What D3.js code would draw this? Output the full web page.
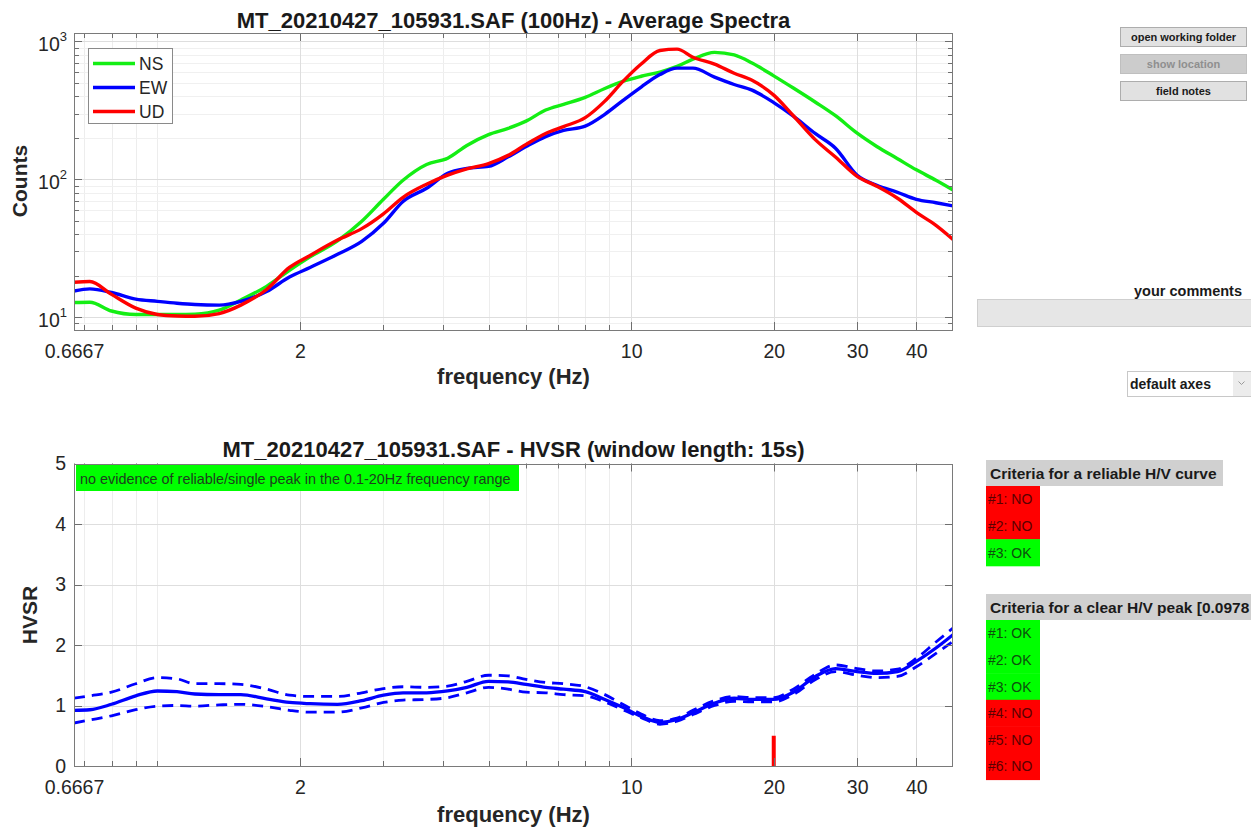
<!DOCTYPE html>
<html>
<head>
<meta charset="utf-8">
<script src="https://cdn.jsdelivr.net/npm/d3@7"></script>
<style>
  html, body { margin: 0; padding: 0; background: #ffffff; }
  svg { display: block; }
</style>
</head>
<body>
<svg id="chart" width="1251" height="828"></svg>
<script>
// ---------------- DATA ----------------
const freqs = [0.6667, 0.72, 0.8, 0.9, 1.0, 1.1, 1.2, 1.35, 1.5, 1.7, 1.9, 2.1, 2.4, 2.7, 3.0, 3.3, 3.7, 4.1, 4.5, 5.0,
               5.5, 6.0, 6.6, 7.2, 8.0, 8.8, 9.6, 10.5, 11.5, 12.5, 13.5, 15, 16.5, 18, 20, 22, 24.5, 27, 30, 33,
               36.5, 40, 44, 47.8];
const spectraNS = [12.75, 12.8, 11.06, 10.43, 10.43, 10.43, 10.48, 11.2, 13.3, 16.7, 21.8, 27.3, 35.7, 49.5, 71.5, 98.3, 128, 142, 176, 211,
                   234, 264, 318, 350, 393, 456, 513, 559, 600, 659, 744, 834, 798, 697, 563, 459, 362, 289, 216, 173,
                   141, 117, 98.3, 83.5];
const spectraEW = [15.45, 16.0, 15.07, 13.5, 13.0, 12.6, 12.33, 12.2, 12.97, 15.3, 19.5, 22.9, 28.5, 35.4, 47.9, 69, 86, 110.6, 120, 124,
                   145.5, 172.6, 204, 226, 243, 296, 372, 467, 575, 640, 640, 551, 487, 443, 360, 287, 214, 168, 107, 90.4,
                   80.4, 71.5, 67.5, 64];
const spectraUD = [17.9, 18.1, 14.6, 11.6, 10.43, 10.17, 10.13, 10.6, 12.2, 15.85, 22.9, 28.0, 36.2, 43.8, 56.1, 74, 92, 107, 118.8, 130,
                   149, 179, 215, 241, 280, 369, 511, 686, 860, 880, 768, 685, 588, 522, 408, 289, 193, 145, 105, 89,
                   72.8, 57.5, 46.3, 36.6];
const hvsrMean  = [0.92, 0.93, 1.02, 1.16, 1.24, 1.23, 1.19, 1.18, 1.18, 1.11, 1.05, 1.03, 1.02, 1.08, 1.17, 1.21, 1.21, 1.24, 1.30, 1.40,
                   1.39, 1.35, 1.30, 1.27, 1.23, 1.10, 0.97, 0.82, 0.72, 0.77, 0.88, 1.04, 1.12, 1.10, 1.10, 1.22, 1.48, 1.61, 1.56, 1.53,
                   1.56, 1.73, 1.95, 2.17];
const hvsrUpper = [1.12, 1.16, 1.22, 1.36, 1.46, 1.44, 1.36, 1.36, 1.35, 1.27, 1.17, 1.15, 1.15, 1.21, 1.28, 1.31, 1.30, 1.32, 1.40, 1.50,
                   1.49, 1.43, 1.38, 1.36, 1.31, 1.18, 1.02, 0.86, 0.75, 0.79, 0.92, 1.08, 1.15, 1.13, 1.13, 1.27, 1.52, 1.67, 1.61, 1.57,
                   1.60, 1.78, 2.05, 2.28];
const hvsrLower = [0.71, 0.76, 0.83, 0.93, 0.99, 1.00, 0.99, 1.01, 1.02, 0.98, 0.92, 0.89, 0.89, 0.96, 1.05, 1.09, 1.10, 1.13, 1.21, 1.30,
                   1.27, 1.22, 1.21, 1.18, 1.16, 1.06, 0.93, 0.80, 0.69, 0.74, 0.85, 1.00, 1.07, 1.06, 1.06, 1.18, 1.43, 1.56, 1.50, 1.46,
                   1.48, 1.64, 1.86, 2.06];
const peakFreqs = [20];
const peakHeights = [0.5];

const seriesNames = ["NS", "EW", "UD"];
const seriesColors = ["#14ee14", "#0000ff", "#ff0000"];

const xTickValues = [0.6667, 2, 10, 20, 30, 40];
const xTickLabels = ["0.6667", "2", "10", "20", "30", "40"];
const xMinorTicks = [0.7, 0.8, 0.9, 1, 3, 4, 5, 6, 7, 8, 9];
const spectraYTicks = [10, 100, 1000];
const spectraYTickExp = ["1", "2", "3"];
const spectraYMinor = [9, 20, 30, 40, 50, 60, 70, 80, 90, 200, 300, 400, 500, 600, 700, 800, 900];
const hvsrYTicks = [0, 1, 2, 3, 4, 5];

const titleSpectra = "MT_20210427_105931.SAF (100Hz) - Average Spectra";
const titleHvsr = "MT_20210427_105931.SAF - HVSR (window length: 15s)";
const xLabelText = "frequency (Hz)";
const peakNote = "no evidence of reliable/single peak in the 0.1-20Hz frequency range";

const buttonLabels = ["open working folder", "show location", "field notes"];
const buttonEnabled = [true, false, true];
const reliableHeader = "Criteria for a reliable H/V curve";
const reliableLabels = ["#1: NO", "#2: NO", "#3: OK"];
const reliablePass = [false, false, true];
const peakHeader = "Criteria for a clear H/V peak [0.0978";
const peakLabels = ["#1: OK", "#2: OK", "#3: OK", "#4: NO", "#5: NO", "#6: NO"];
const peakPass = [true, true, true, false, false, false];

// ---------------- DRAWING ----------------
const FONT = '"Liberation Sans", Arial, Helvetica, sans-serif';
const svg = d3.select("#chart").style("font-family", FONT);
svg.append("rect").attr("width", 1251).attr("height", 828).attr("fill", "#ffffff");

const P = v => Math.round(v) + 0.5;
const L = 74, R = 953;

const xS = d3.scaleLog().domain([0.6667, 47.8]).range([L, R]);
const yS = d3.scaleLog().domain([8.05, 1152]).range([330, 33]);
const yH = d3.scaleLinear().domain([0, 5]).range([766, 463.5]);

function panel(name, x, y, yMajor, yMinor) {
  const [yb, yt] = y.range();
  const g = svg.append("g").attr("class", name);
  g.append("g").selectAll("line").data(xMinorTicks).join("line")
    .attr("x1", d => P(x(d))).attr("x2", d => P(x(d))).attr("y1", yt).attr("y2", yb)
    .attr("stroke", "#ededed").attr("stroke-width", 1);
  g.append("g").selectAll("line").data(yMinor).join("line")
    .attr("y1", d => P(y(d))).attr("y2", d => P(y(d))).attr("x1", L).attr("x2", R)
    .attr("stroke", "#f0f0f0").attr("stroke-width", 1);
  g.append("g").selectAll("line").data(xTickValues.slice(1)).join("line")
    .attr("x1", d => P(x(d))).attr("x2", d => P(x(d))).attr("y1", yt).attr("y2", yb)
    .attr("stroke", "#dedede").attr("stroke-width", 1);
  g.append("g").selectAll("line").data(yMajor.filter(d => y(d) > yt + 1 && y(d) < yb - 1)).join("line")
    .attr("y1", d => P(y(d))).attr("y2", d => P(y(d))).attr("x1", L).attr("x2", R)
    .attr("stroke", "#dedede").attr("stroke-width", 1);
  return g;
}

function frame(g, x, y, yMajor, yMinor) {
  const [yb, yt] = y.range();
  const fg = g.append("g");
  const tickCol = "#6e6e6e";
  const xt = [...xTickValues.map(v => ({v, len: 8})), ...xMinorTicks.map(v => ({v, len: 5}))];
  fg.selectAll(".xtb").data(xt).join("line")
    .attr("x1", d => P(x(d.v))).attr("x2", d => P(x(d.v))).attr("y1", yb).attr("y2", d => yb - d.len)
    .attr("stroke", tickCol);
  fg.selectAll(".xtt").data(xt).join("line")
    .attr("x1", d => P(x(d.v))).attr("x2", d => P(x(d.v))).attr("y1", yt).attr("y2", d => yt + d.len)
    .attr("stroke", tickCol);
  const yt2 = [...yMajor.map(v => ({v, len: 8})), ...yMinor.map(v => ({v, len: 5}))];
  fg.selectAll(".ytl").data(yt2).join("line")
    .attr("y1", d => P(y(d.v))).attr("y2", d => P(y(d.v))).attr("x1", L).attr("x2", d => L + d.len)
    .attr("stroke", tickCol);
  fg.selectAll(".ytr").data(yt2).join("line")
    .attr("y1", d => P(y(d.v))).attr("y2", d => P(y(d.v))).attr("x1", R).attr("x2", d => R - d.len)
    .attr("stroke", tickCol);
  fg.append("rect").attr("x", L + 0.5).attr("y", Math.round(yt) + 0.5)
    .attr("width", R - L - 1).attr("height", Math.round(yb) - Math.round(yt))
    .attr("fill", "none").attr("stroke", "#7a7a7a").attr("stroke-width", 1);
  const ax = d3.axisBottom(x).tickValues(xTickValues).tickFormat((d, i) => xTickLabels[i])
    .tickSize(0).tickPadding(14);
  const axg = fg.append("g").attr("transform", `translate(0,${yb})`).call(ax);
  axg.select(".domain").remove();
  axg.selectAll("text").attr("font-size", 19.5).attr("fill", "#262626").attr("font-family", FONT);
  return fg;
}

// ===== Top panel: spectra =====
const gTop = panel("spectra", xS, yS, spectraYTicks, spectraYMinor);
svg.append("clipPath").attr("id", "clipTop").append("rect").attr("x", L).attr("y", 33).attr("width", R - L).attr("height", 297);
const lineTop = d3.line().x((d, i) => xS(freqs[i])).y(d => yS(d)).curve(d3.curveMonotoneX);
const spectra = [spectraNS, spectraEW, spectraUD];
gTop.append("g").attr("clip-path", "url(#clipTop)").selectAll("path").data(spectra).join("path")
  .attr("d", d => lineTop(d)).attr("fill", "none")
  .attr("stroke", (d, i) => seriesColors[i]).attr("stroke-width", 3.4)
  .attr("stroke-linejoin", "round").attr("stroke-linecap", "round");
frame(gTop, xS, yS, spectraYTicks, spectraYMinor);

const ylab = gTop.append("g").selectAll("text").data(spectraYTicks).join("text")
  .attr("x", 67).attr("y", d => yS(d) + 3).attr("text-anchor", "end")
  .attr("dominant-baseline", "central").attr("fill", "#262626").attr("font-size", 19.5);
ylab.append("tspan").text("10");
ylab.append("tspan").attr("dy", -8).attr("font-size", 13).text((d, i) => spectraYTickExp[i]);

const lg = gTop.append("g");
lg.append("rect").attr("x", 88.5).attr("y", 48.5).attr("width", 84).attr("height", 75)
  .attr("fill", "#ffffff").attr("stroke", "#8a8a8a").attr("stroke-width", 1);
seriesNames.forEach((n, i) => {
  const cy = 63.5 + i * 24;
  lg.append("line").attr("x1", 93).attr("x2", 135).attr("y1", cy).attr("y2", cy)
    .attr("stroke", seriesColors[i]).attr("stroke-width", 3.4);
  lg.append("text").attr("x", 139).attr("y", cy).attr("dominant-baseline", "central")
    .attr("font-size", 17.5).attr("fill", "#262626").text(n);
});

svg.append("text").attr("x", 513.5).attr("y", 28).attr("text-anchor", "middle")
  .attr("font-size", 22).attr("font-weight", "bold").attr("fill", "#1a1a1a").text(titleSpectra);
svg.append("text").attr("x", 513.5).attr("y", 384).attr("text-anchor", "middle")
  .attr("font-size", 22).attr("font-weight", "bold").attr("fill", "#262626").text(xLabelText);
svg.append("text").attr("transform", "translate(27,181) rotate(-90)").attr("text-anchor", "middle")
  .attr("font-size", 21).attr("font-weight", "bold").attr("fill", "#262626").text("Counts");

// ===== Bottom panel: HVSR =====
const gBot = panel("hvsr", xS, yH, hvsrYTicks, []);
svg.append("clipPath").attr("id", "clipBot").append("rect").attr("x", L).attr("y", 463).attr("width", R - L).attr("height", 303);
const lineBot = d3.line().x((d, i) => xS(freqs[i])).y(d => yH(d)).curve(d3.curveMonotoneX);
const cb = gBot.append("g").attr("clip-path", "url(#clipBot)");
cb.selectAll(".dash").data([hvsrUpper, hvsrLower]).join("path")
  .attr("d", d => lineBot(d)).attr("fill", "none").attr("stroke", "#0000ff")
  .attr("stroke-width", 2.8).attr("stroke-dasharray", "11,7");
cb.append("path").attr("d", lineBot(hvsrMean)).attr("fill", "none").attr("stroke", "#0000ff")
  .attr("stroke-width", 3.3).attr("stroke-linejoin", "round");
cb.selectAll(".peak").data(peakFreqs).join("line")
  .attr("x1", d => xS(d)).attr("x2", d => xS(d)).attr("y1", yH(0)).attr("y2", (d, i) => yH(peakHeights[i]))
  .attr("stroke", "#ff0000").attr("stroke-width", 4);
frame(gBot, xS, yH, hvsrYTicks, []);

const hAxis = d3.axisLeft(yH).tickValues(hvsrYTicks).tickFormat(d3.format("d")).tickSize(0).tickPadding(8);
const hg = gBot.append("g").attr("transform", `translate(${L},0)`).call(hAxis);
hg.select(".domain").remove();
hg.selectAll("text").attr("font-size", 19.5).attr("fill", "#262626").attr("font-family", FONT);

gBot.append("rect").attr("x", 76).attr("y", 465).attr("width", 443).attr("height", 26).attr("fill", "#00ff00");
gBot.append("text").attr("x", 80).attr("y", 478.5).attr("dominant-baseline", "central")
  .attr("font-size", 14.4).attr("fill", "#1e3d1e").text(peakNote);

svg.append("text").attr("x", 513.5).attr("y", 457).attr("text-anchor", "middle")
  .attr("font-size", 22).attr("font-weight", "bold").attr("fill", "#1a1a1a").text(titleHvsr);
svg.append("text").attr("x", 513.5).attr("y", 822).attr("text-anchor", "middle")
  .attr("font-size", 22).attr("font-weight", "bold").attr("fill", "#262626").text(xLabelText);
svg.append("text").attr("transform", "translate(37,615) rotate(-90)").attr("text-anchor", "middle")
  .attr("font-size", 21).attr("font-weight", "bold").attr("fill", "#262626").text("HVSR");

// ===== Right-hand controls =====
const ui = svg.append("g");
const btnY = [27, 54, 81];
buttonLabels.forEach((t, i) => {
  ui.append("rect").attr("x", 1120.5).attr("y", btnY[i] + 0.5).attr("width", 126).attr("height", 19)
    .attr("fill", buttonEnabled[i] ? "#e1e1e1" : "#cccccc")
    .attr("stroke", buttonEnabled[i] ? "#adadad" : "#bfbfbf");
  ui.append("text").attr("x", 1183.5).attr("y", btnY[i] + 10).attr("text-anchor", "middle")
    .attr("dominant-baseline", "central").attr("font-size", 11).attr("font-weight", "bold")
    .attr("fill", buttonEnabled[i] ? "#1a1a1a" : "#8f8f8f").text(t);
});

ui.append("text").attr("x", 1242).attr("y", 296).attr("text-anchor", "end")
  .attr("font-size", 14.5).attr("font-weight", "bold").attr("fill", "#1a1a1a").text("your comments");
ui.append("rect").attr("x", 977.5).attr("y", 299.5).attr("width", 280).attr("height", 27)
  .attr("fill", "#e6e6e6").attr("stroke", "#cfcfcf");

ui.append("rect").attr("x", 1127.5).attr("y", 371.5).attr("width", 130).attr("height", 25)
  .attr("fill", "#ffffff").attr("stroke", "#c8c8c8");
ui.append("rect").attr("x", 1233).attr("y", 372).attr("width", 18).attr("height", 24).attr("fill", "#ececec");
ui.append("text").attr("x", 1130).attr("y", 389).attr("font-size", 14).attr("font-weight", "bold")
  .attr("fill", "#1a1a1a").text("default axes");
ui.append("path").attr("d", "M1238.5,381.5 L1241.5,384.5 L1244.5,381.5").attr("fill", "none")
  .attr("stroke", "#9a9a9a").attr("stroke-width", 1);

function criteria(header, headerW, top, labels, pass) {
  ui.append("rect").attr("x", 986).attr("y", top).attr("width", headerW).attr("height", 26).attr("fill", "#d0d0d0");
  ui.append("text").attr("x", 990).attr("y", top + 13).attr("dominant-baseline", "central")
    .attr("font-size", 15.5).attr("font-weight", "bold").attr("fill", "#1a1a1a").text(header);
  const rowH = 26.6;
  ui.append("g").selectAll("rect").data(labels).join("rect")
    .attr("x", 986).attr("y", (d, i) => top + 26 + i * rowH).attr("width", 54).attr("height", rowH + 0.5)
    .attr("fill", (d, i) => pass[i] ? "#00ff00" : "#ff0000");
  ui.append("g").selectAll("text").data(labels).join("text")
    .attr("x", 988).attr("y", (d, i) => top + 26 + i * rowH + rowH / 2).attr("dominant-baseline", "central")
    .attr("font-size", 14).attr("fill", (d, i) => pass[i] ? "#0d500d" : "#5a0000").text(d => d);
}
criteria(reliableHeader, 237, 460, reliableLabels, reliablePass);
criteria(peakHeader, 265, 594, peakLabels, peakPass);
</script>
</body>
</html>
